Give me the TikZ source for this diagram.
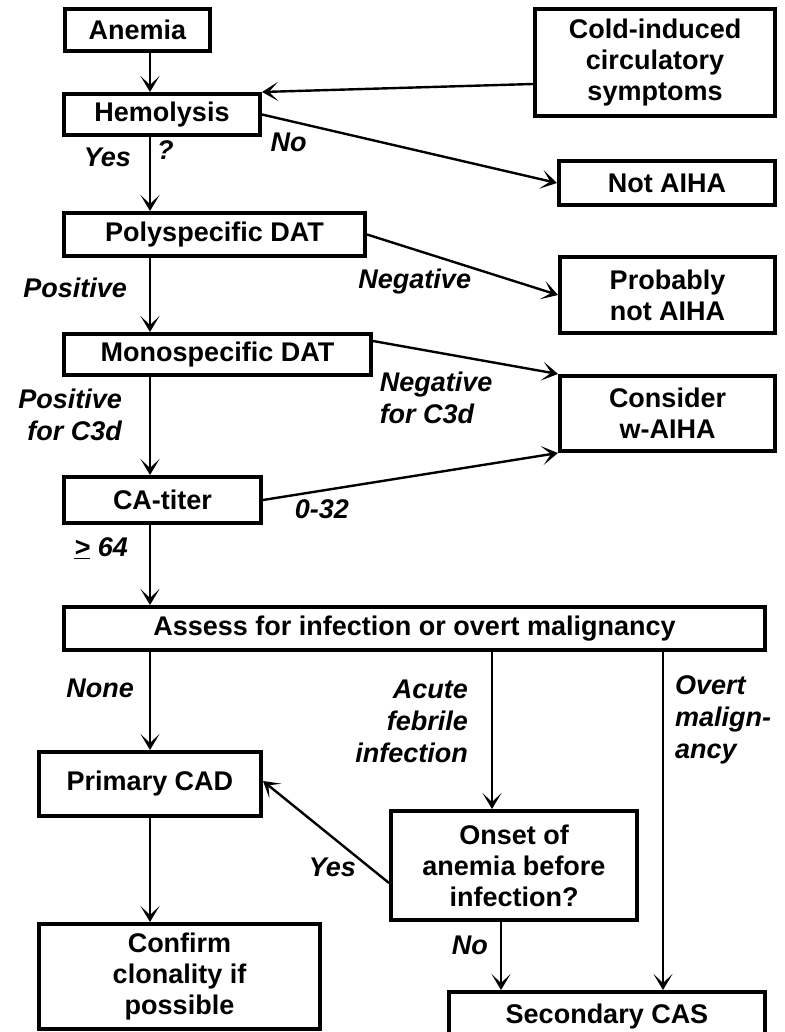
\documentclass[tikz,border=0pt]{standalone}
\usepackage{fontspec}
\setmainfont{Liberation Sans}
\usetikzlibrary{positioning,arrows.meta}

\begin{document}
\begin{tikzpicture}[x=1pt,y=-1pt,
        box/.style={draw, line width=4pt, inner sep=0pt, align=center,
                    font=\fontsize{27}{31}\selectfont\bfseries},
        lab/.style={inner sep=0pt, font=\fontsize{27}{32}\selectfont\bfseries\itshape},
        flow/.style={-{Stealth[length=16pt,width=19pt,inset=9pt]}, line width=2.4pt}]
        \useasboundingbox (0,0) rectangle (784,1032);
        \clip (0,0) rectangle (784,1032);
        % columns of the vertical arrows
        \coordinate (spine)  at (150,0);
        \coordinate (infcol) at (492,0);
        \coordinate (nocol)  at (501,0);
        \coordinate (ovtcol) at (663,0);
        % boxes
        \node[box, minimum width=145, minimum height=42]  (anemia)   at (137.5,30)   {Anemia};
        \node[box, minimum width=196, minimum height=41]  (hemo)     at (162,114.5)  {Hemolysis};
        \node[box, minimum width=240, minimum height=107] (cold)     at (655,62.5)   {Cold-induced\\circulatory\\symptoms};
        \node[box, minimum width=216, minimum height=44]  (notaiha)  at (667,183)    {Not AIHA};
        \node[box, minimum width=301, minimum height=43]  (poly)     at (214.5,234.5) {Polyspecific DAT};
        \node[box, minimum width=215, minimum height=76]  (probnot)  at (667.5,295)  {Probably\\not AIHA};
        \node[box, minimum width=307, minimum height=41]  (mono)     at (217.5,354.5) {Monospecific DAT};
        \node[box, minimum width=215, minimum height=75]  (consider) at (667.5,413.5) {Consider\\w-AIHA};
        \node[box, minimum width=197, minimum height=46]  (catiter)  at (162.5,500)  {CA-titer};
        \node[box, minimum width=701, minimum height=43]  (assess)   at (414.5,628.5) {Assess for infection or overt malignancy};
        \node[box, minimum width=222, minimum height=64]  (primary)  at (150,784)    {Primary CAD};
        \node[box, minimum width=246, minimum height=109] (onset)    at (514,865.5)  {Onset of\\anemia before\\infection?};
        \node[box, minimum width=281, minimum height=105] (confirm)  at (179.5,976.5) {Confirm\\clonality if\\possible};
        \node[box, minimum width=316, minimum height=50]  (second)   at (607,1017)   {Secondary CAS};
        % connectors
        \draw[flow] (anemia.south -| spine) -- (hemo.north -| spine);
        \draw[flow] ([yshift=-21.5]cold.west) -- (hemo.north east);
        \draw[flow] (hemo.east) -- node[lab, pos=0.09, below=11pt] {No} (notaiha.west);
        \draw[flow] (hemo.south -| spine) -- node[lab, pos=0.28, left=18pt] {Yes}
                                             node[lab, pos=0.18, right=6pt] {?} (poly.north -| spine);
        \draw[flow] (poly.east) -- node[lab, pos=0.25, below=18pt] {Negative} (probnot.west);
        \draw[flow] (poly.south -| spine) -- node[lab, pos=0.4, left=22pt] {Positive} (mono.north -| spine);
        \draw[flow] ([yshift=13.5]mono.east) -- node[lab, align=left, pos=0.03, anchor=north west, yshift=-29pt] {Negative\\for C3d} (consider.north west);
        \draw[flow] (mono.south -| spine) -- node[lab, align=right, pos=0.39, left=27pt] {Positive\\for C3d} (catiter.north -| spine);
        \draw[flow] (catiter.east) -- node[lab, pos=0.2, below=8pt] {0-32} (consider.south west);
        \draw[flow] (catiter.south -| spine) -- node[lab, pos=0.29, left=21pt] {\underline{>} 64} (assess.north -| spine);
        \draw[flow] (assess.south -| spine) -- node[lab, pos=0.37, left=15pt] {None} (primary.north -| spine);
        \draw[flow] (assess.south -| infcol) -- node[lab, align=right, pos=0.44, left=23pt] {Acute\\febrile\\infection} (onset.north -| infcol);
        \draw[flow] (assess.south -| ovtcol) -- node[lab, align=left, pos=0.2, right=11pt] {Overt\\malign-\\ancy} (second.north -| ovtcol);
        \draw[flow] ([yshift=-17.5]onset.west) -- node[lab, pos=0.45, below=20pt] {Yes} ([yshift=3]primary.east);
        \draw[flow] (primary.south -| spine) -- (confirm.north -| spine);
        \draw[flow] (onset.south -| nocol) -- node[lab, pos=0.34, left=12pt] {No} (second.north -| nocol);
      \end{tikzpicture}
\end{document}
